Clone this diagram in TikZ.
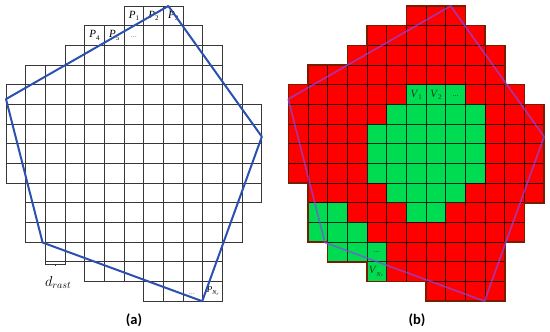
\documentclass[tikz,border=0pt]{standalone}
\usepackage{fontspec}
\setmainfont{Liberation Serif}
\newfontfamily\capfont{Carlito}
\definecolor{polya}{RGB}{43,80,176}
\definecolor{polyb}{RGB}{140,70,225}
\definecolor{gridA}{RGB}{55,55,55}
\definecolor{cellred}{RGB}{255,0,0}
\definecolor{cellgreen}{RGB}{0,220,82}
\definecolor{edgebrown}{RGB}{120,30,0}
\definecolor{lblgreen}{RGB}{25,60,30}
\newcommand\lbl[2]{\textit{#1}\raisebox{-0.45ex}{\fontsize{7}{7}\selectfont #2}}
\tikzset{
  cella/.style={draw=gridA,line width=0.75pt},
  gridb/.style={draw=black,draw opacity=0.55,line width=0.9pt},
  pola/.style={draw=polya,line width=2pt,line join=round},
  polb/.style={draw=polyb,draw opacity=0.7,line width=1.7pt,line join=round},
  plbl/.style={font=\fontsize{11}{12}\selectfont,inner sep=0pt},
  vlbl/.style={font=\fontsize{11}{12}\selectfont,inner sep=0pt,text=lblgreen},
  dots/.style={font=\fontsize{8}{9}\selectfont,inner sep=0pt,text=gray},
  caption/.style={font=\capfont\bfseries\fontsize{14.5}{15}\selectfont,inner sep=0pt}
}
\begin{document}
\begin{tikzpicture}
\useasboundingbox (0,0) rectangle (550pt,-332pt);
% ---------------- panel (a) ----------------
\begin{scope}[shift={(6pt,-6pt)},x=19.68pt,y=-19.68pt]
  \foreach \r/\a/\b in {0/6/8,1/4/9,2/3/10,3/1/10,4/0/11,5/0/12,6/0/12,7/0/12,8/0/12,9/1/12,10/1/11,11/1/11,12/2/10,13/4/10,14/7/10}{
    \foreach \c in {\a,...,\b}{\draw[cella] (\c,\r) rectangle ++(1,1);}
  }
  \coordinate (a1) at (8.25,0);
  \coordinate (a2) at (13,6.64);
  \coordinate (a3) at (9.97,15);
  \coordinate (a4) at (1.86,12.02);
  \coordinate (a5) at (0,4.73);
  \node[plbl] (p1) at (6.5,0.5) {\lbl{P}{1}};
  \node[plbl] (p2) at (7.5,0.5) {\lbl{P}{2}};
  \node[plbl] (p3) at (8.5,0.5) {\lbl{P}{3}};
  \node[plbl] (p4) at (4.5,1.5) {\lbl{P}{4}};
  \node[plbl] (p5) at (5.5,1.5) {\lbl{P}{5}};
  \node[dots] (pd1) at (6.5,1.6) {...};
  \node[dots] (pd2) at (9.45,14.65) {...};
  \node[plbl,font=\fontsize{9}{10}\selectfont] (pn) at (10.5,14.5) {\textit{P}\raisebox{-0.5ex}{\fontsize{6}{6}\selectfont\textit{N}\raisebox{-0.3ex}{\fontsize{4.5}{4.5}\selectfont\textit{r}}}};
  \draw[pola] (a1) -- (a2) -- (a3) -- (a4) -- (a5) -- cycle;
  \coordinate (bl) at (2,13.12);
  \coordinate (br) at (3,13.12);
  \draw[line width=0.6pt,draw=gridA] ([yshift=2.5pt]bl) -- (bl) -- (br) -- ([yshift=2.5pt]br);
  \draw[line width=0.6pt,draw=gridA] (2.5,13.12) -- ++(0,-1.8pt);
  \node[inner sep=0pt,font=\fontsize{14}{14}\selectfont] (drast) at (2.65,14.05) {$d_{rast}$};
\end{scope}
\node[caption] (capa) at (134pt,-320pt) {(a)};
% ---------------- panel (b) ----------------
\begin{scope}[shift={(288.3pt,-6pt)},x=19.68pt,y=-19.68pt]
  \foreach \r/\a/\b in {0/6/8,1/4/9,2/3/10,3/1/10,4/0/11,5/0/12,6/0/12,7/0/12,8/0/12,9/1/12,10/1/11,11/1/11,12/2/10,13/4/10,14/7/10}{
    \foreach \c in {\a,...,\b}{\fill[cellred] (\c,\r) rectangle ++(1,1);}
  }
  \foreach \r/\a/\b in {4/6/8,5/5/9,6/4/9,7/4/9,8/4/9,9/5/8,10/6/7,10/1/2,11/1/3,12/2/4,13/4/4}{
    \foreach \c in {\a,...,\b}{\fill[cellgreen] (\c,\r) rectangle ++(1,1);}
  }
  \foreach \r/\a/\b in {0/6/8,1/4/9,2/3/10,3/1/10,4/0/11,5/0/12,6/0/12,7/0/12,8/0/12,9/1/12,10/1/11,11/1/11,12/2/10,13/4/10,14/7/10}{
    \foreach \c in {\a,...,\b}{\draw[gridb] (\c,\r) rectangle ++(1,1);}
  }
  \draw[edgebrown,line width=1.5pt,line join=miter]
    (6,0) -- (9,0) -- (9,1) -- (10,1) -- (10,2) -- (11,2) -- (11,4) -- (12,4) -- (12,5) -- (13,5)
    -- (13,10) -- (12,10) -- (12,12) -- (11,12) -- (11,15) -- (7,15) -- (7,14) -- (4,14) -- (4,13)
    -- (2,13) -- (2,12) -- (1,12) -- (1,9) -- (0,9) -- (0,4) -- (1,4) -- (1,3) -- (3,3) -- (3,2)
    -- (4,2) -- (4,1) -- (6,1) -- cycle;
  \coordinate (b1) at (8.25,0);
  \coordinate (b2) at (13,6.64);
  \coordinate (b3) at (9.97,15);
  \coordinate (b4) at (1.86,12.02);
  \coordinate (b5) at (0,4.73);
  \node[vlbl] (v1) at (6.5,4.5) {\lbl{V}{1}};
  \node[vlbl] (v2) at (7.5,4.5) {\lbl{V}{2}};
  \node[dots,text=lblgreen] (vd1) at (8.5,4.6) {...};
  \node[dots,text=lblgreen] (vd2) at (4.5,12.5) {...};
  \node[vlbl] (vn) at (4.45,13.5) {\textit{V}\raisebox{-0.5ex}{\fontsize{6}{6}\selectfont\textit{N}\raisebox{-0.3ex}{\fontsize{4.5}{4.5}\selectfont\textit{e}}}};
  \draw[polb] (b1) -- (b2) -- (b3) -- (b4) -- (b5) -- cycle;
\end{scope}
\node[caption] (capb) at (417pt,-320pt) {(b)};
\end{tikzpicture}
\end{document}
